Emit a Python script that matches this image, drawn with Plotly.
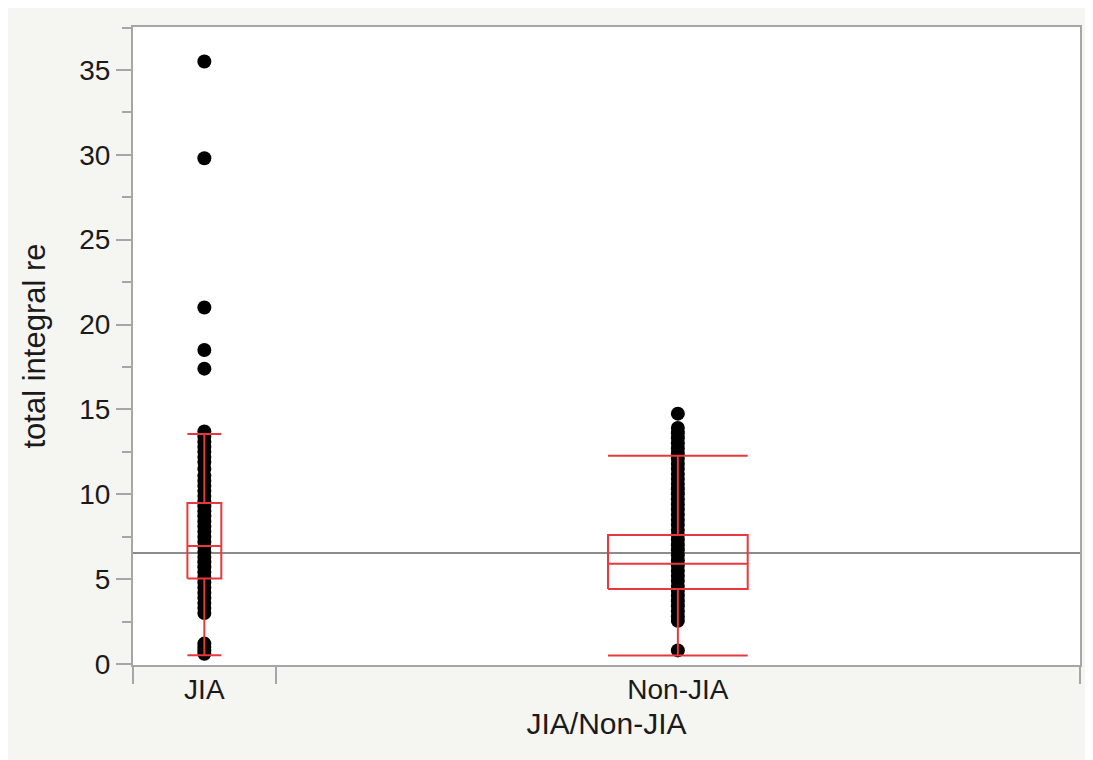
import plotly.graph_objects as go

# ---------------- data ----------------
categories = ["JIA", "Non-JIA"]

jia_values = [35.5, 29.8, 21.0, 18.5, 17.4,
              13.7, 13.4, 13.1, 12.8, 12.5, 12.2, 11.9, 11.5, 11.1, 10.8,
              10.5, 10.2, 9.9, 9.6, 9.3, 9.0, 8.7, 8.4, 8.1, 7.8, 7.5,
              7.2, 6.9, 6.6, 6.3, 6.0, 5.7, 5.4, 5.1, 4.8, 4.5, 4.2,
              3.9, 3.6, 3.3, 3.0, 1.2, 1.0, 0.8, 0.6]

non_jia_values = [14.75, 13.9, 13.6, 13.3, 13.0, 12.7, 12.4, 12.1, 11.8,
                  11.5, 11.2, 10.9, 10.6, 10.3, 10.0, 9.7, 9.4, 9.1, 8.8,
                  8.5, 8.2, 7.9, 7.6, 7.3, 7.0, 6.7, 6.4, 6.1, 5.8, 5.5,
                  5.2, 4.9, 4.6, 4.3, 4.0, 3.7, 3.4, 3.1, 2.8, 2.55, 0.8]

q1 = [5.03, 4.42]
median = [6.95, 5.90]
q3 = [9.49, 7.60]
lower_whisker = [0.52, 0.50]
upper_whisker = [13.55, 12.27]

grand_mean = 6.54

y_tick_values = [0, 5, 10, 15, 20, 25, 30, 35]

# ---------------- layout constants ----------------
cat_spans = [143, 806]          # horizontal share of each category
box_widths = [34, 140]
RED = "#e8383d"
AXIS = "#a6a6a6"
TXT = "#1a1a1a"
FONT = "Liberation Sans, Arial, Helvetica, sans-serif"

bounds = [0]
for s in cat_spans:
    bounds.append(bounds[-1] + s)
centers = [(bounds[i] + bounds[i + 1]) / 2 for i in range(len(cat_spans))]

fig = go.Figure()

# points
for c, vals in zip(centers, [jia_values, non_jia_values]):
    fig.add_trace(go.Scatter(
        x=[c] * len(vals), y=vals, mode="markers",
        marker=dict(color="black", size=14, line=dict(width=0)),
        showlegend=False, hoverinfo="y"))

# box outlines (drawn above the points)
for i, c in enumerate(centers):
    h = box_widths[i] / 2
    xs = [c - h, c + h, c + h, c - h, c - h, None,
          c - h, c + h, None,
          c, c, None, c, c, None,
          c - h, c + h, None, c - h, c + h]
    ys = [q1[i], q1[i], q3[i], q3[i], q1[i], None,
          median[i], median[i], None,
          q3[i], upper_whisker[i], None, q1[i], lower_whisker[i], None,
          upper_whisker[i], upper_whisker[i], None,
          lower_whisker[i], lower_whisker[i]]
    fig.add_trace(go.Scatter(
        x=xs, y=ys, mode="lines", line=dict(color=RED, width=2),
        showlegend=False, hoverinfo="skip"))

# grand mean line
fig.add_shape(type="line", xref="paper", yref="y", x0=0, x1=1,
              y0=grand_mean, y1=grand_mean, layer="below",
              line=dict(color="#8c8c8c", width=1.8))

fig.update_layout(
    width=1085, height=752,
    margin=dict(l=125, r=11, t=19, b=95),
    paper_bgcolor="#f5f5f1", plot_bgcolor="white",
    font=dict(family=FONT, color=TXT),
    showlegend=False,
    xaxis=dict(
        range=[bounds[0], bounds[-1]],
        tickmode="array", tickvals=centers, ticktext=categories,
        ticks="", ticklabelstandoff=-2,
        tickfont=dict(size=28, family=FONT, color=TXT),
        minor=dict(tickmode="array", tickvals=bounds, ticks="outside",
                   ticklen=17, tickwidth=2, tickcolor=AXIS),
        showgrid=False, zeroline=False,
        showline=True, linecolor=AXIS, linewidth=2, mirror=True,
        title=dict(text="JIA/Non-JIA", standoff=9,
                   font=dict(size=30, family=FONT, color=TXT)),
    ),
    yaxis=dict(
        range=[-0.06, 37.53],
        tickmode="array", tickvals=y_tick_values,
        ticks="outside", ticklen=15, tickwidth=2, tickcolor=AXIS,
        minor=dict(dtick=2.5, ticks="outside", ticklen=9, tickwidth=2,
                   tickcolor=AXIS, showgrid=False),
        tickfont=dict(size=28, family=FONT, color=TXT),
        ticklabelstandoff=0,
        showgrid=False, zeroline=False,
        showline=True, linecolor=AXIS, linewidth=2, mirror=True,
        title=dict(text="total integral re", standoff=24,
                   font=dict(size=31, family=FONT, color=TXT)),
    ),
)

fig.write_html("out.html")
